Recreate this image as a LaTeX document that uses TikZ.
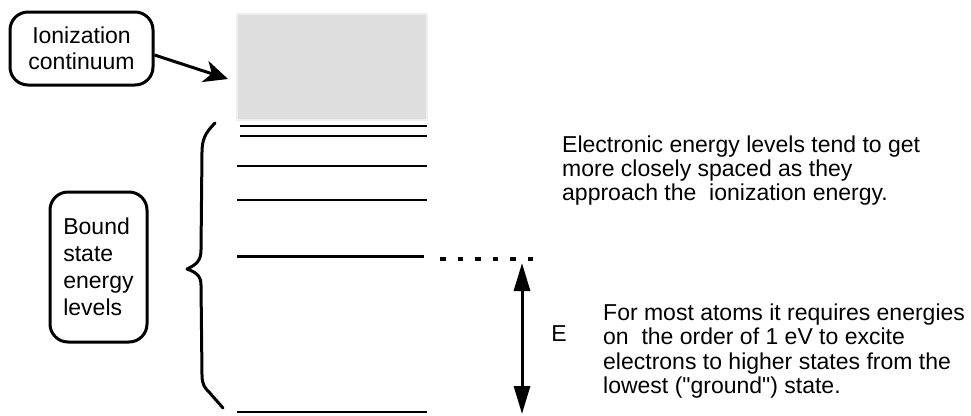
\documentclass[tikz,border=0pt]{standalone}
\usepackage{fontspec}
\setmainfont{Liberation Sans}
\usetikzlibrary{arrows.meta}
\definecolor{contfill}{HTML}{DEDEDE}
\definecolor{contedge}{HTML}{EFEFEF}
\begin{document}
\begin{tikzpicture}[x=1pt,y=-1pt,
  lbl/.style={inner sep=0pt},
  callout/.style={draw, line width=3pt, rounded corners=18pt, inner sep=0pt},
  level/.style={line width=2.6pt},
  thickarrow/.style={line width=3pt},
]
\useasboundingbox (0,0) rectangle (971,415);
% continuum
\path[fill=contfill, draw=contedge, line width=2pt] (237,14) rectangle (427,120);
% levels
\draw[level] (240,126) -- (427,126);
\draw[level] (240,136) -- (427,136);
\draw[level] (237,166) -- (427,166);
\draw[level] (237,200) -- (427,200);
\draw[level] (237,256.5) -- (424,256.5);
\draw[level] (237,412) -- (427,412);
% dashed extension
\draw[line width=3.2pt, dash pattern=on 5.5pt off 12.1pt] (440,259) -- (533,259);
% brace
\draw[line width=3pt, line cap=round, line join=round]
  (215,123) .. controls (205,133) and (202,140) .. (202,152)
  -- (201,250) .. controls (201,262) and (195,265) .. (187,269)
  .. controls (195,272) and (201,275) .. (201,285)
  -- (202,375) .. controls (202,385) and (205,388) .. (209,392)
  -- (223,408);
% callouts
\node[callout, minimum width=143pt, minimum height=73pt, align=center,
      font=\fontsize{23}{26}\selectfont] (ion) at (81.5,48.5) {Ionization\\continuum};
\node[callout, minimum width=97pt, minimum height=150pt, align=left,
      font=\fontsize{23}{27}\selectfont] (bound) at (98.5,267) {Bound\\state\\energy\\levels};
\coordinate (ctip) at (228,79);
\draw[thickarrow, -{Stealth[length=24pt,width=22pt,inset=7pt]}] ([yshift=-6.5pt]ion.east) -- (ctip);
% energy arrow
\coordinate (etop) at (522,263);
\coordinate (ebot) at (522,414);
\draw[line width=3pt, {Triangle[length=28pt,width=16pt]}-{Triangle[length=28pt,width=16pt]}] (etop) -- (ebot);
\node[lbl, font=\fontsize{23}{24}\selectfont] (E) at (559,333.5) {E};
% texts
\node[lbl, anchor=north west, align=left, font=\fontsize{23}{24}\selectfont] (t1) at (562,135.5)
  {Electronic energy levels tend to get\\more closely spaced as they\\approach the\ \ ionization energy.};
\node[lbl, anchor=north west, align=left, font=\fontsize{23}{24.5}\selectfont] (t2) at (603,303.5)
  {For most atoms it requires energies\\on\ \ the order of 1 eV to excite\\electrons to higher states from the\\lowest (\textquotedbl ground\textquotedbl) state.};
\end{tikzpicture}
\end{document}
